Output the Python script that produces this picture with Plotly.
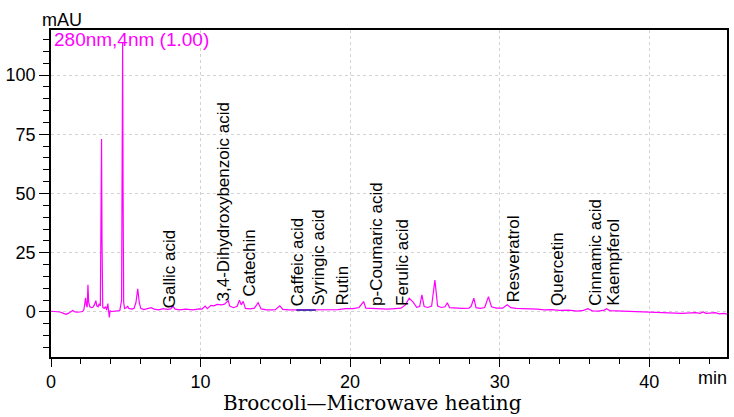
import plotly.graph_objects as go

# ---- data ----
time_min = [0.0, 0.3, 0.6, 0.8, 1.0, 1.15, 1.3, 1.45, 1.6, 1.8, 2.1, 2.2, 2.27, 2.31, 2.36, 2.42,
            2.47, 2.52, 2.6, 2.7, 2.8, 2.9, 3.0, 3.06, 3.15, 3.22, 3.3, 3.35, 3.38, 3.41, 3.46,
            3.55, 3.65, 3.72, 3.8, 3.85, 3.9, 3.95, 4.05, 4.3, 4.6, 4.72, 4.76, 4.79, 4.82, 4.86,
            4.92, 5.05, 5.12, 5.2, 5.4, 5.55, 5.68, 5.8, 5.9, 6.0, 6.2, 6.5, 6.7, 6.9, 7.2, 7.5,
            7.8, 8.0, 8.15, 8.3, 8.6, 9.0, 9.5, 9.9, 10.1, 10.3, 10.45, 10.7, 10.9, 11.1, 11.4,
            11.6, 11.85, 11.95, 12.2, 12.45, 12.6, 12.72, 12.85, 13.0, 13.3, 13.6, 13.85, 14.05,
            14.4, 14.8, 15.0, 15.3, 15.5, 15.9, 16.3, 16.8, 17.4, 18.0, 18.6, 19.2, 19.7, 20.2,
            20.6, 20.9, 21.05, 21.5, 22.0, 22.5, 23.0, 23.4, 23.7, 23.95, 24.2, 24.45, 24.65,
            24.8, 24.95, 25.2, 25.45, 25.67, 25.85, 26.1, 26.35, 26.5, 26.65, 27.0, 27.5, 27.95,
            28.1, 28.27, 28.42, 28.7, 29.0, 29.25, 29.45, 29.8, 30.2, 30.5, 30.75, 31.1, 31.8,
            32.5, 33.0, 33.5, 34.0, 34.6, 35.2, 35.6, 35.9, 36.2, 36.6, 37.0, 37.15, 37.35, 37.8,
            38.5, 39.2, 40.0, 40.8, 41.5, 42.2, 42.8, 43.1, 43.4, 43.6, 43.8, 44.1, 44.4, 44.7,
            45.0, 45.2]
signal_mau = [0.3, 0.2, 0.0, -0.5, -1.0, -0.6, 0.2, 0.6, 0.0, -0.1, 0.2, 1.0, 4.0, 6.0, 3.0, 2.0,
              11.5, 4.0, 2.2, 1.8, 2.0, 3.0, 4.8, 2.6, 2.2, 3.5, 2.5, 30.0, 73.0, 30.0, 2.0,
              1.5, 2.2, 0.8, 3.5, 0.5, -2.3, 0.5, 0.2, 0.4, 0.6, 5.0, 60.0, 113.5, 50.0, 4.0,
              1.5, 1.8, 2.5, 1.5, 1.2, 1.5, 4.0, 9.8, 4.0, 1.5, 1.0, 1.3, 1.8, 1.2, 0.9, 1.4,
              1.1, 1.3, 2.4, 1.2, 0.9, 1.2, 0.9, 1.3, 1.2, 2.5, 1.4, 2.8, 2.6, 3.2, 3.0,
              3.3, 4.8, 2.5, 1.8, 2.4, 5.0, 3.0, 4.5, 1.5, 1.3, 1.6, 3.9, 1.3,
              0.9, 0.9, 1.0, 2.6, 1.1, 0.9, 0.9, 1.0, 0.9, 0.8, 0.9, 1.0, 1.4, 1.4,
              1.9, 4.4, 1.6, 1.5, 1.3, 1.2, 1.4, 1.6, 3.0, 5.8, 4.3, 2.0, 2.3,
              7.2, 2.3, 1.9, 2.5, 13.5, 2.5, 1.9, 2.2, 3.9, 1.8, 1.6, 1.5, 1.6,
              2.5, 5.8, 1.8, 1.5, 1.9, 6.5, 2.2, 1.6, 1.6, 3.0, 1.8, 1.5, 1.5,
              1.2, 0.9, 1.0, 0.7, 0.8, 0.4, 0.7, 1.4, 0.5, 0.4, 0.8, 1.4, 0.6, 0.5,
              0.3, 0.2, 0.0, -0.2, -0.5, -0.6, -0.4, -0.3, -0.6, 0.0, -0.6, -0.4, -0.3, -0.8,
              -0.6, -0.9]

# short integration baseline (blue) under caffeic / syringic acid
baseline_time = [16.4, 17.7]
baseline_mau = [0.8, 0.8]

peak_names = ["Gallic acid", "3,4-Dihydroxybenzoic acid", "Catechin", "Caffeic acid",
              "Syringic acid", "Rutin", "p-Coumaric acid", "Ferulic acid", "Resveratrol",
              "Quercetin", "Cinnamic acid", "Kaempferol"]
peak_times = [7.9, 11.5, 13.3, 16.5, 17.9, 19.5, 21.8, 23.5, 30.9, 33.9, 36.4, 37.6]
label_base = [0.8, 3.8, 5.9, 1.7, 1.7, 1.7, 1.7, 1.7, 3.0, 1.7, 1.7, 1.7]

x_ticks = [0, 10, 20, 30, 40]
y_ticks = [0, 25, 50, 75, 100]

fig = go.Figure()
fig.add_trace(go.Scatter(x=time_min, y=signal_mau, mode="lines",
                         line=dict(color="#ff00ff", width=1.2), showlegend=False,
                         hoverinfo="skip"))
fig.add_trace(go.Scatter(x=baseline_time, y=baseline_mau, mode="lines",
                         line=dict(color="#1a1aa0", width=1.4), showlegend=False,
                         hoverinfo="skip"))

for name, t, yb in zip(peak_names, peak_times, label_base):
    fig.add_annotation(x=t, y=yb, xref="x", yref="y", text=name, textangle=-90,
                       showarrow=False, xanchor="center", yanchor="bottom",
                       font=dict(family="Liberation Sans, Arial", size=17, color="black"))

tick_font = dict(family="Liberation Sans, Arial", size=18, color="black")

fig.add_annotation(x=-0.016, y=1.031, xref="paper", yref="paper", text="mAU",
                   showarrow=False, xanchor="left", yanchor="middle", font=tick_font)
fig.add_annotation(x=0.002, y=0.972, xref="paper", yref="paper", text="280nm,4nm (1.00)",
                   showarrow=False, xanchor="left", yanchor="middle",
                   font=dict(family="Liberation Sans, Arial", size=19, color="#ff00ff"))
fig.add_annotation(x=0.978, y=-0.064, xref="paper", yref="paper", text="min",
                   showarrow=False, xanchor="center", yanchor="middle", font=tick_font)
fig.add_annotation(x=0.475, y=-0.141, xref="paper", yref="paper",
                   text="Broccoli\u2014Microwave heating", showarrow=False,
                   xanchor="center", yanchor="middle",
                   font=dict(family="DejaVu Serif", size=20, color="black"))

fig.update_xaxes(range=[0, 45.2], tickvals=x_ticks, ticks="outside", ticklen=8,
                 tickcolor="black", tickfont=tick_font, showline=True, linecolor="black",
                 linewidth=1.5, mirror=True, showgrid=True, gridcolor="#d2d2d2",
                 griddash="dot", gridwidth=1, zeroline=False,
                 minor=dict(dtick=2, ticks="outside", ticklen=5, tickcolor="black",
                            showgrid=False))
fig.update_yaxes(range=[-19, 119], tickvals=y_ticks, ticks="outside", ticklen=10,
                 tickcolor="black", tickfont=tick_font, showline=True, linecolor="black",
                 linewidth=1.5, mirror=True, showgrid=True, gridcolor="#d2d2d2",
                 griddash="dot", gridwidth=1, zeroline=False,
                 minor=dict(dtick=5, ticks="outside", ticklen=6, tickcolor="black",
                            showgrid=False))

fig.update_layout(width=734, height=417, margin=dict(l=51, r=5, t=30, b=60),
                  plot_bgcolor="white", paper_bgcolor="white")

fig.write_html("out.html", config={"displayModeBar": False},
               post_script="document.body.style.margin='0px';document.body.style.padding='0px';")
